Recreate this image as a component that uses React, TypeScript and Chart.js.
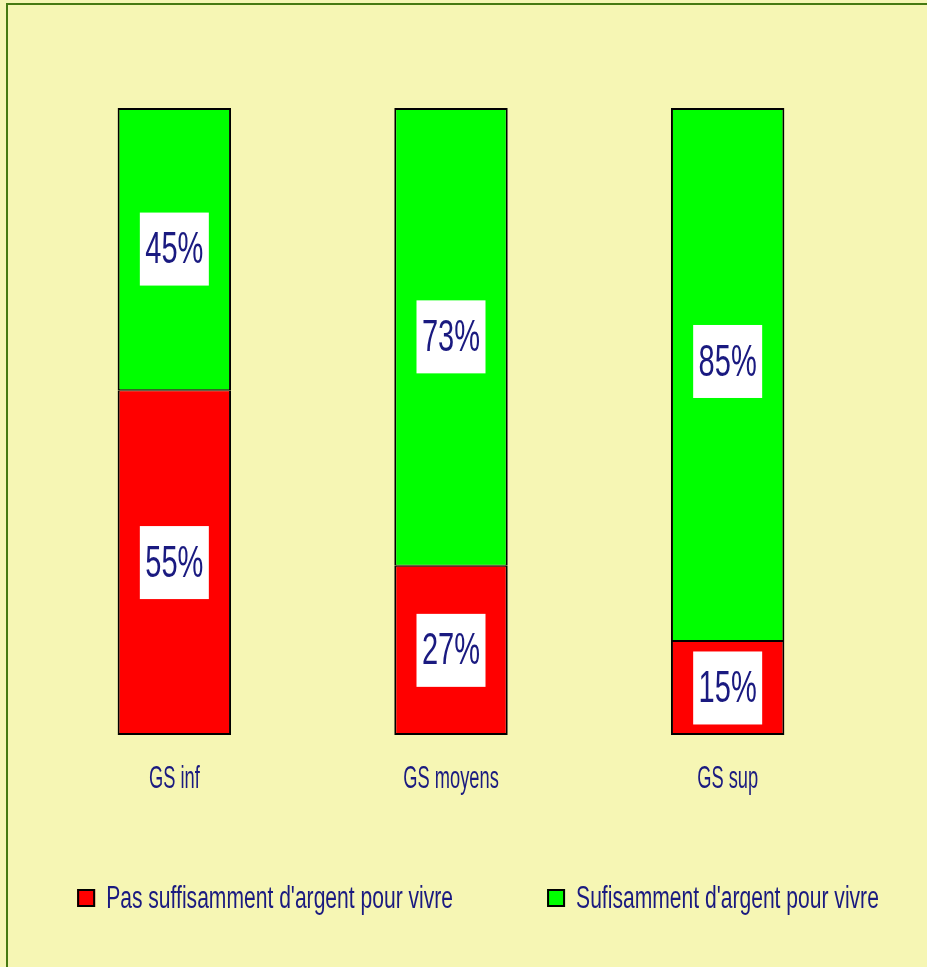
import React, { useEffect, useRef } from "react";
import { Chart, registerables } from "chart.js";

Chart.register(...registerables);

const categories = ["GS inf", "GS moyens", "GS sup"];
const seriesNames = ["Pas suffisamment d'argent pour vivre", "Sufisamment d'argent pour vivre"];
const notEnough = [55, 27, 15];
const enough = [45, 73, 85];
const seriesColors = ["#FF0000", "#00FF00"];

// small vertical nudges of value labels (style, not data): [dataset][category]
const labelNudge = [
  [0, 0, 0],
  [0, 0, -13],
];

const TEXT = "#1a1a80";
const FONT = "'Liberation Sans', Arial, sans-serif";
const BG = "#F6F6B4";

function drawSquashed(ctx: CanvasRenderingContext2D, text: string, x: number, y: number, size: number, sx: number, align: "center" | "left") {
  ctx.save();
  ctx.font = `${size}px ${FONT}`;
  ctx.textBaseline = "middle";
  ctx.textAlign = align;
  ctx.translate(x, y);
  ctx.scale(sx, 1);
  ctx.fillStyle = TEXT;
  ctx.fillText(text, 0, 0);
  ctx.restore();
}

const decorPlugin = {
  id: "decor",
  beforeDraw(chart: any) {
    const ctx = chart.ctx as CanvasRenderingContext2D;
    ctx.save();
    ctx.fillStyle = BG;
    ctx.fillRect(0, 0, chart.width, chart.height);
    ctx.strokeStyle = "#467A12";
    ctx.lineWidth = 2;
    ctx.strokeRect(7, 4, chart.width + 50, chart.height + 50);
    ctx.restore();
  },
  afterDatasetsDraw(chart: any) {
    const ctx = chart.ctx as CanvasRenderingContext2D;
    // value labels
    chart.data.datasets.forEach((ds: any, di: number) => {
      const meta = chart.getDatasetMeta(di);
      meta.data.forEach((el: any, i: number) => {
        const v = ds.data[i];
        const cy = (el.y + el.base) / 2 + labelNudge[di][i];
        const cx = el.x;
        ctx.save();
        ctx.fillStyle = "#FFFFFF";
        ctx.fillRect(cx - 34.5, cy - 36.5, 69, 73);
        ctx.restore();
        drawSquashed(ctx, `${v}%`, cx, cy + 2, 44, 0.66, "center");
      });
    });
    // category labels
    const xs = chart.scales.x;
    categories.forEach((c, i) => {
      drawSquashed(ctx, c, xs.getPixelForTick(i), 779, 31, 0.59, "center");
    });
    // legend
    const size = 31;
    const sx = 0.68;
    ctx.save();
    ctx.font = `${size}px ${FONT}`;
    const widths = seriesNames.map((n) => ctx.measureText(n).width * sx);
    ctx.restore();
    const box = 18;
    const gapBoxText = 11;
    const gapItems = 94;
    const total = widths.reduce((a, w) => a + box + gapBoxText + w, 0) + gapItems * (seriesNames.length - 1);
    let x = 478 - total / 2;
    const ly = 898;
    seriesNames.forEach((n, i) => {
      ctx.save();
      ctx.fillStyle = seriesColors[i];
      ctx.fillRect(x, ly - box / 2, box, box);
      ctx.strokeStyle = "#000";
      ctx.lineWidth = 2;
      ctx.strokeRect(x + 1, ly - box / 2 + 1, box - 2, box - 2);
      ctx.restore();
      drawSquashed(ctx, n, x + box + gapBoxText, ly + 1, size, sx, "left");
      x += box + gapBoxText + widths[i] + gapItems;
    });
  },
};

export default function App() {
  const ref = useRef<HTMLCanvasElement | null>(null);
  useEffect(() => {
    document.body.style.margin = "0";
    const chart = new Chart(ref.current!, {
      type: "bar",
      data: {
        labels: categories,
        datasets: [
          { label: seriesNames[0], data: notEnough, backgroundColor: seriesColors[0], borderColor: "#000", borderWidth: { left: 2, right: 2, bottom: 2, top: 1 }, borderSkipped: false },
          { label: seriesNames[1], data: enough, backgroundColor: seriesColors[1], borderColor: "#000", borderWidth: { left: 2, right: 2, top: 2, bottom: 1 }, borderSkipped: false },
        ],
      },
      options: {
        responsive: false,
        animation: false,
        layout: { padding: { left: 36, right: 61, top: 108, bottom: 232 } },
        datasets: { bar: { categoryPercentage: 1, barPercentage: 0.41 } },
        scales: {
          x: { stacked: true, display: false },
          y: { stacked: true, display: false, min: 0, max: 100 },
        },
        plugins: { legend: { display: false }, tooltip: { enabled: false } },
      },
      plugins: [decorPlugin],
    });
    return () => chart.destroy();
  }, []);
  return (
    <div style={{ position: "absolute", left: 0, top: 0, width: 927, height: 967 }}>
      <canvas ref={ref} width={927} height={967} style={{ display: "block", width: 927, height: 967 }} />
    </div>
  );
}
